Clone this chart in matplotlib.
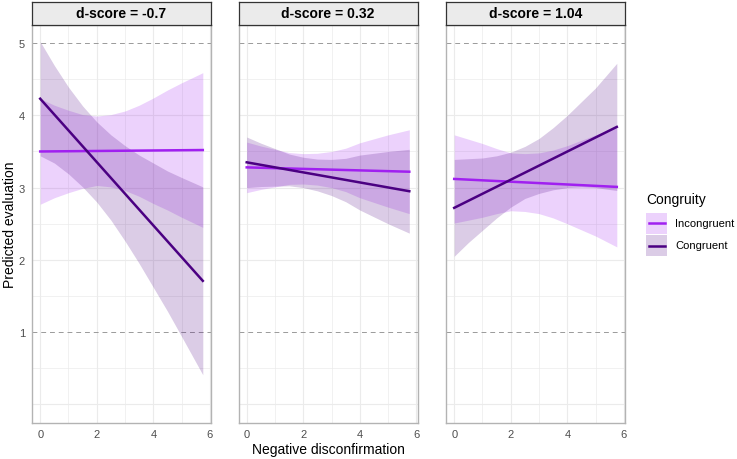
import matplotlib
matplotlib.use("Agg")
import matplotlib.pyplot as plt
from matplotlib.patches import Rectangle

plt.rcParams["font.family"] = ["Liberation Sans", "DejaVu Sans"]

TITLES = ["d-score = -0.7", "d-score = 0.32", "d-score = 1.04"]
GROUPS = ["Incongruent", "Congruent"]

# fitted lines (start / end of the x range)
LINE_X = [0, 5.75]
INC_LINE = [[3.50, 3.52], [3.28, 3.22], [3.12, 3.01]]
CON_LINE = [[4.23, 1.71], [3.35, 2.95], [2.72, 3.84]]

# confidence bands, read at these x positions
X = [0, 0.5, 1, 1.5, 2, 2.5, 3, 3.5, 4, 4.5, 5, 5.75]
INC_LOW = [
    [2.77, 2.86, 2.93, 2.99, 3.03, 3.01, 2.96, 2.88, 2.78, 2.69, 2.59, 2.45],
    [2.93, 2.975, 3.01, 3.045, 3.05, 3.035, 3.00, 2.945, 2.86, 2.795, 2.73, 2.64],
    [2.51, 2.55, 2.59, 2.64, 2.68, 2.67, 2.64, 2.58, 2.50, 2.415, 2.33, 2.18],
]
INC_HIGH = [
    [4.23, 4.14, 4.07, 4.01, 3.99, 4.01, 4.06, 4.14, 4.24, 4.35, 4.45, 4.59],
    [3.63, 3.575, 3.53, 3.485, 3.47, 3.475, 3.50, 3.545, 3.62, 3.675, 3.73, 3.80],
    [3.73, 3.67, 3.61, 3.54, 3.48, 3.47, 3.48, 3.52, 3.58, 3.655, 3.73, 3.84],
]
CON_LOW = [
    [3.44, 3.34, 3.19, 3.01, 2.80, 2.55, 2.26, 1.95, 1.62, 1.29, 0.94, 0.41],
    [3.00, 3.015, 3.02, 3.025, 3.00, 2.955, 2.89, 2.805, 2.69, 2.595, 2.50, 2.37],
    [2.05, 2.24, 2.41, 2.58, 2.73, 2.85, 2.92, 2.97, 3.00, 3.01, 3.00, 2.96],
]
CON_HIGH = [
    [5.02, 4.69, 4.39, 4.13, 3.91, 3.73, 3.58, 3.45, 3.34, 3.23, 3.14, 3.01],
    [3.70, 3.615, 3.54, 3.465, 3.42, 3.395, 3.39, 3.405, 3.45, 3.475, 3.50, 3.53],
    [3.39, 3.40, 3.41, 3.44, 3.49, 3.57, 3.68, 3.83, 4.00, 4.19, 4.38, 4.72],
]

INC_COLOR = "#A020F0"
CON_COLOR = "#4B0082"

W, H = 737, 460
fig = plt.figure(figsize=(W / 100, H / 100), dpi=100)

lefts = [32, 238.5, 446]
panel_w = 179
top, bottom = 26, 423.5
strip_h = 23.5

for i in range(3):
    ax = fig.add_axes([lefts[i] / W, 1 - bottom / H, panel_w / W, (bottom - top) / H])
    ax.set_xlim(-0.29, 6.04)
    ax.set_ylim(-0.25, 5.25)
    for gy in [0, 0.5, 1.5, 2, 2.5, 3, 3.5, 4, 4.5]:
        ax.axhline(gy, color="#EBEBEB", lw=0.8 if gy % 1 == 0 else 0.5, zorder=0)
    for gx in range(7):
        ax.axvline(gx, color="#EBEBEB", lw=0.8 if gx % 2 == 0 else 0.5, zorder=0)
    ax.axhline(1, color="#9A9A9A", lw=0.7, ls=(0, (5, 4)), zorder=1)
    ax.axhline(5, color="#9A9A9A", lw=0.7, ls=(0, (5, 4)), zorder=1)

    ax.fill_between(X, INC_LOW[i], INC_HIGH[i], color=INC_COLOR, alpha=0.2, lw=0, zorder=2)
    ax.fill_between(X, CON_LOW[i], CON_HIGH[i], color=CON_COLOR, alpha=0.2, lw=0, zorder=2)
    ax.plot(LINE_X, INC_LINE[i], color=INC_COLOR, lw=1.8, zorder=3)
    ax.plot(LINE_X, CON_LINE[i], color=CON_COLOR, lw=1.8, zorder=3)

    ax.set_xticks([0, 2, 4, 6])
    ax.set_yticks([1, 2, 3, 4, 5])
    ax.tick_params(length=0, labelsize=8, labelcolor="#4D4D4D", pad=5)
    if i > 0:
        ax.set_yticklabels([])
    for s in ax.spines.values():
        s.set_color("#B3B3B3")
        s.set_linewidth(1.0)

    sax = fig.add_axes([lefts[i] / W, 1 - top / H, panel_w / W, strip_h / H])
    sax.set_facecolor("#EBEBEB")
    sax.set_xticks([])
    sax.set_yticks([])
    for s in sax.spines.values():
        s.set_color("#333333")
        s.set_linewidth(0.9)
    sax.text(0.5, 0.5, TITLES[i], ha="center", va="center", fontsize=10,
             fontweight="bold", transform=sax.transAxes)

fig.text(10 / W, 1 - 225 / H, "Predicted evaluation", rotation=90,
         ha="center", va="center", fontsize=10)
fig.text(328 / W, 1 - 450 / H, "Negative disconfirmation",
         ha="center", va="center", fontsize=10)

# legend drawn by hand in pixel coordinates
lax = fig.add_axes([0, 0, 1, 1])
lax.set_xlim(0, W)
lax.set_ylim(H, 0)
lax.axis("off")
lax.text(646, 200, "Congruity", ha="left", va="center", fontsize=10)
for k, (name, color) in enumerate(zip(GROUPS, [INC_COLOR, CON_COLOR])):
    y0 = 213.5 + k * 22.5
    lax.add_patch(Rectangle((646.5, y0), 21, 21, facecolor=color, alpha=0.2, lw=0))
    lax.plot([649, 665], [y0 + 10.5, y0 + 10.5], color=color, lw=1.8)
    lax.text(675.5, y0 + 10.5, name, ha="left", va="center", fontsize=8)

fig.savefig("out.png", dpi=100)
